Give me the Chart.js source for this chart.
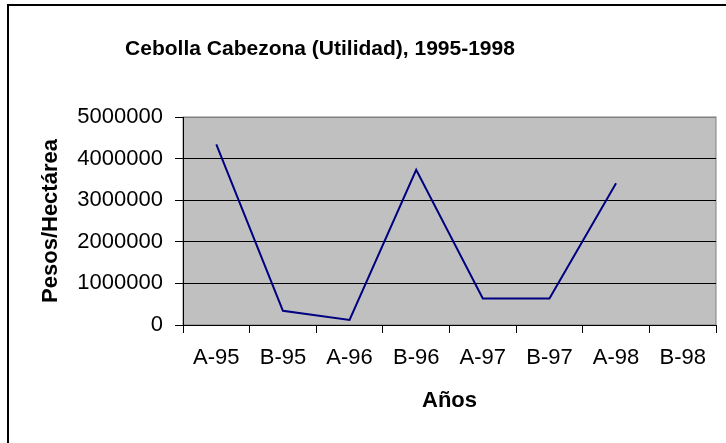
<!DOCTYPE html>
<html>
<head>
<meta charset="utf-8">
<title>Cebolla Cabezona (Utilidad), 1995-1998</title>
<script src="https://cdn.jsdelivr.net/npm/chart.js@4/dist/chart.umd.min.js"></script>
<style>
  body { margin: 0; background: #fff; }
</style>
</head>
<body>
<canvas id="myChart" width="726" height="443"></canvas>
<script>
// Datos del gráfico
const titulo = "Cebolla Cabezona (Utilidad), 1995-1998";
const periodos = ["A-95", "B-95", "A-96", "B-96", "A-97", "B-97", "A-98", "B-98"];
const utilidad = [4340000, 340000, 120000, 3730000, 640000, 640000, 3410000, null];
const ticksY = [0, 1000000, 2000000, 3000000, 4000000, 5000000];

const fuente = "'Liberation Sans', Arial, sans-serif";
const chartDom = document.getElementById("myChart");

// Fondo gris del área de trazado, marco exterior y título
const fondoPlugin = {
  id: "fondo",
  beforeDraw(chart) {
    const { ctx, chartArea } = chart;
    ctx.save();
    ctx.fillStyle = "#fff";
    ctx.fillRect(0, 0, chart.width, chart.height);
    // marco del gráfico
    ctx.strokeStyle = "#000";
    ctx.lineWidth = 2;
    ctx.beginPath();
    ctx.moveTo(8, chart.height);
    ctx.lineTo(8, 5);
    ctx.lineTo(chart.width, 5);
    ctx.stroke();
    // área de trazado
    ctx.fillStyle = "#C0C0C0";
    ctx.fillRect(chartArea.left, chartArea.top, chartArea.right - chartArea.left, chartArea.bottom - chartArea.top);
    ctx.strokeStyle = "#808080";
    ctx.lineWidth = 1;
    ctx.strokeRect(chartArea.left, chartArea.top, chartArea.right - chartArea.left, chartArea.bottom - chartArea.top);
    // título (Excel lo deja algo a la izquierda)
    ctx.fillStyle = "#000";
    ctx.font = "bold 21px " + fuente;
    ctx.textAlign = "center";
    ctx.textBaseline = "middle";
    ctx.fillText(titulo, 320, 49);
    ctx.restore();
  },
};

const config = {
  type: "line",
  data: {
    labels: periodos,
    datasets: [
      {
        label: "Utilidad",
        data: utilidad,
        borderColor: "#000080",
        borderWidth: 2,
        pointRadius: 0,
        tension: 0,
        spanGaps: false,
      },
    ],
  },
  options: {
    responsive: false,
    animation: false,
    layout: { padding: { left: 0, right: 10, top: 117, bottom: 0 } },
    plugins: {
      legend: { display: false },
      tooltip: { enabled: false },
      title: { display: false },
    },
    scales: {
      x: {
        offset: true,
        grid: {
          offset: true,
          drawOnChartArea: false,
          drawTicks: true,
          tickLength: 8,
          color: "#000",
        },
        border: { color: "#000", width: 1 },
        ticks: {
          color: "#000",
          font: { family: fuente, size: 22 },
          padding: 12,
          maxRotation: 0,
          autoSkip: false,
        },
        title: {
          display: true,
          text: "Años",
          color: "#000",
          font: { family: fuente, size: 22, weight: "bold" },
          padding: { top: 0, bottom: 29 },
        },
        afterFit(scale) {
          scale.height = 118;
        },
      },
      y: {
        min: 0,
        max: 5000000,
        afterBuildTicks(scale) {
          scale.ticks = ticksY.map((v) => ({ value: v }));
        },
        grid: {
          color: (c) => (c.tick && c.tick.value === 5000000 ? "#808080" : "#000"),
          tickLength: 8,
          drawTicks: true,
          tickColor: "#000",
        },
        border: { color: "#000", width: 1 },
        ticks: {
          color: "#000",
          font: { family: fuente, size: 22 },
          padding: 12,
          callback: (v) => String(v),
        },
        title: {
          display: true,
          text: "Pesos/Hectárea",
          color: "#000",
          font: { family: fuente, size: 22, weight: "bold" },
          padding: { top: 38, bottom: 0 },
        },
        afterFit(scale) {
          scale.width = 183;
        },
      },
    },
  },
  plugins: [fondoPlugin],
};

const myChart = new Chart(chartDom, config);
</script>
</body>
</html>
